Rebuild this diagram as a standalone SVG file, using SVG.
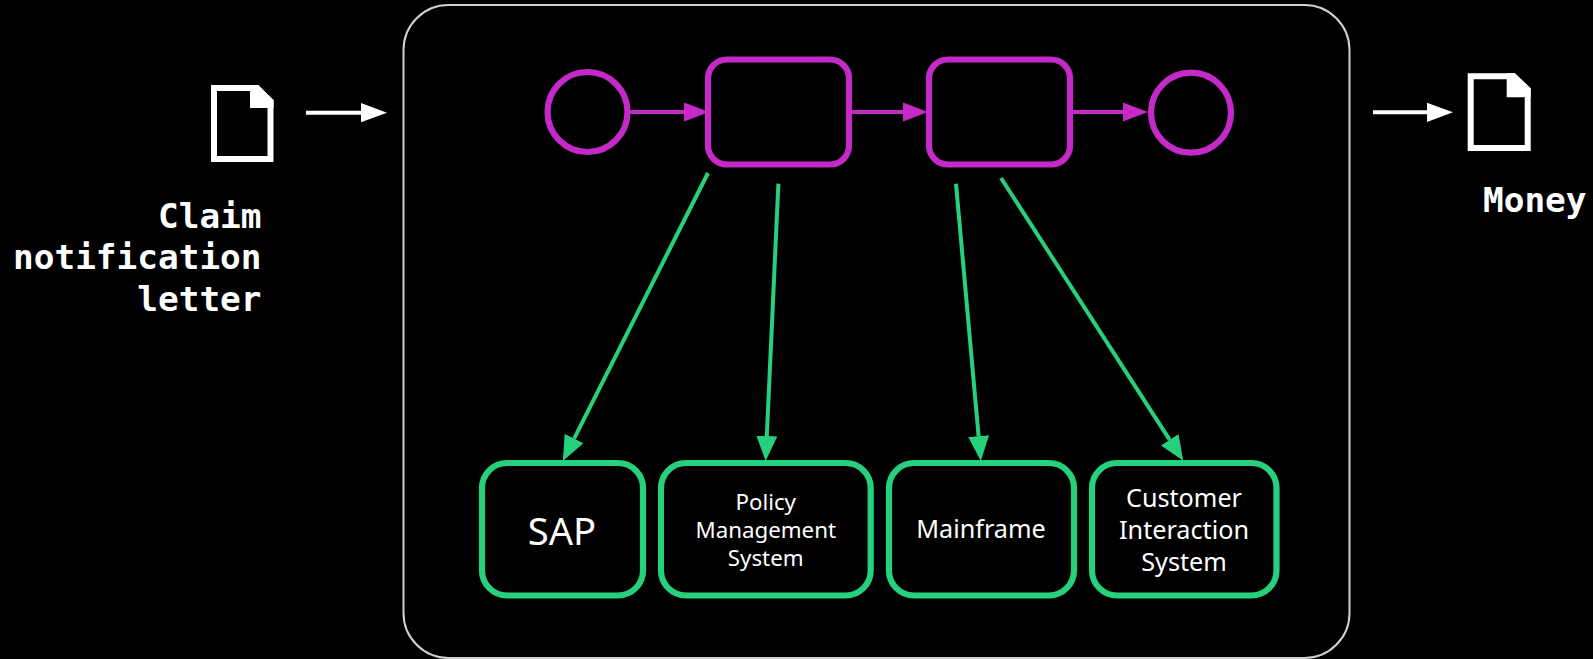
<svg xmlns="http://www.w3.org/2000/svg" width="1593" height="659" viewBox="0 0 1593 659">
<style>
.mono{font-family:"DejaVu Sans Mono","Liberation Mono",monospace;font-weight:700;font-size:34.4px;fill:#fff;text-anchor:end}
.lbl{font-family:"Noto Sans","Open Sans",sans-serif;fill:#fff;text-anchor:middle;font-size:25.2px}
.proc{fill:none;stroke:#c52ac8;stroke-width:6.2}
.sys{fill:none;stroke:#26d07c;stroke-width:6.2}
.doc{fill:none;stroke:#fff;stroke-width:6}
.fold{fill:#fff}
.cw{stroke:#fff;stroke-width:4;fill:none}
.cp{stroke:#c52ac8;stroke-width:4;fill:none}
.cg{stroke:#26d07c;stroke-width:4;fill:none}
</style>
<defs>
<marker id="aw" markerUnits="userSpaceOnUse" markerWidth="27" markerHeight="22" refX="0" refY="11" orient="auto"><path d="M0 1.4L26 11L0 20.6Z" fill="#fff"/></marker>
<marker id="ap" markerUnits="userSpaceOnUse" markerWidth="27" markerHeight="22" refX="0" refY="11" orient="auto"><path d="M0 1.4L25 11L0 20.6Z" fill="#c52ac8"/></marker>
<marker id="ag" markerUnits="userSpaceOnUse" markerWidth="27" markerHeight="22" refX="0" refY="11" orient="auto"><path d="M0 .5L25 11L0 21.5Z" fill="#26d07c"/></marker>
</defs>
<rect width="1593" height="659" fill="#000"/>
<g id="container"><rect x="403.5" y="5" width="946" height="653" rx="45" fill="#000" stroke="#d0d0d0" stroke-width="2"/></g>
<g id="connectors">
<line class="cw" x1="306" y1="112.7" x2="361" y2="112.7" marker-end="url(#aw)"/>
<line class="cw" x1="1373" y1="112.3" x2="1427" y2="112.3" marker-end="url(#aw)"/>
<line class="cp" x1="630" y1="112" x2="684" y2="112" marker-end="url(#ap)"/>
<line class="cp" x1="851" y1="112" x2="903" y2="112" marker-end="url(#ap)"/>
<line class="cp" x1="1072" y1="112" x2="1123" y2="112" marker-end="url(#ap)"/>
<line class="cg" x1="708" y1="173" x2="574.1" y2="438.6" marker-end="url(#ag)"/>
<line class="cg" x1="778.4" y1="183.7" x2="766.8" y2="436" marker-end="url(#ag)"/>
<line class="cg" x1="956" y1="183.7" x2="978.6" y2="436.1" marker-end="url(#ag)"/>
<line class="cg" x1="1001" y1="178" x2="1169.7" y2="439.8" marker-end="url(#ag)"/>
</g>
<g id="doc-in">
<path class="doc" d="M214 88H257L270.5 101.5V159H214Z"/>
<path class="fold" d="M250 85H258L273.5 100V108H250Z"/>
<text class="mono" x="261.5" y="227.5">Claim</text>
<text class="mono" x="261.5" y="269">notification</text>
<text class="mono" x="261.5" y="310.7">letter</text>
</g>
<g id="doc-out">
<path class="doc" d="M1470.7 76.3H1513.7L1527.7 89.8V148H1470.7Z"/>
<path class="fold" d="M1506.7 73.3H1514.7L1530.7 88.3V97.3H1506.7Z"/>
<text class="mono" x="1586.5" y="211.7">Money</text>
</g>
<g id="start"><circle class="proc" cx="587.5" cy="112" r="40"/></g>
<g id="task1"><rect class="proc" x="708" y="59.5" width="141" height="105" rx="19"/></g>
<g id="task2"><rect class="proc" x="929" y="59.5" width="141" height="105" rx="19"/></g>
<g id="end"><circle class="proc" cx="1191" cy="112.7" r="40"/></g>
<g id="sap"><rect class="sys" x="482" y="463" width="161" height="132.5" rx="25"/>
<text class="lbl" x="562" y="544.5" style="font-size:38.2px">SAP</text></g>
<g id="policy"><rect class="sys" x="661" y="463" width="209.7" height="132.5" rx="25"/>
<text class="lbl" x="765.7" y="510" style="font-size:22.3px">Policy</text>
<text class="lbl" x="765.7" y="538" style="font-size:22.3px">Management</text>
<text class="lbl" x="765.7" y="566" style="font-size:22.3px">System</text></g>
<g id="mainframe"><rect class="sys" x="889" y="463" width="185" height="132.5" rx="25"/>
<text class="lbl" x="981" y="538.3">Mainframe</text></g>
<g id="customer"><rect class="sys" x="1092" y="463" width="184.5" height="132.5" rx="25"/>
<text class="lbl" x="1184" y="507">Customer</text>
<text class="lbl" x="1184" y="539">Interaction</text>
<text class="lbl" x="1184" y="570.7">System</text></g>
</svg>
